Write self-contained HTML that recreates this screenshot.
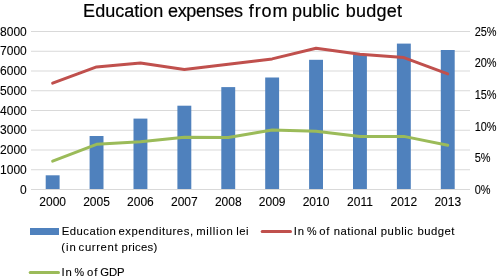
<!DOCTYPE html>
<html><head><meta charset="utf-8"><style>
html,body{margin:0;padding:0;background:#fff;}
body{width:498px;height:280px;overflow:hidden;font-family:"Liberation Sans", sans-serif;}
svg{display:block;will-change:transform;}
text{stroke:#000;stroke-width:0.1px;}
.lg{stroke-width:0.1px;}
</style></head><body>
<svg width="498" height="280" viewBox="0 0 498 280">
<rect width="498" height="280" fill="#fff"/>
<line x1="31.0" x2="470.0" y1="169.75" y2="169.75" stroke="#D9D9D9" stroke-width="1"/>
<line x1="31.0" x2="470.0" y1="150.00" y2="150.00" stroke="#D9D9D9" stroke-width="1"/>
<line x1="31.0" x2="470.0" y1="130.25" y2="130.25" stroke="#D9D9D9" stroke-width="1"/>
<line x1="31.0" x2="470.0" y1="110.50" y2="110.50" stroke="#D9D9D9" stroke-width="1"/>
<line x1="31.0" x2="470.0" y1="90.75" y2="90.75" stroke="#D9D9D9" stroke-width="1"/>
<line x1="31.0" x2="470.0" y1="71.00" y2="71.00" stroke="#D9D9D9" stroke-width="1"/>
<line x1="31.0" x2="470.0" y1="51.25" y2="51.25" stroke="#D9D9D9" stroke-width="1"/>
<line x1="31.0" x2="470.0" y1="31.50" y2="31.50" stroke="#D9D9D9" stroke-width="1"/>
<rect x="45.70" y="175.30" width="13.9" height="13.70" fill="#4F81BD"/>
<rect x="89.60" y="136.00" width="13.9" height="53.00" fill="#4F81BD"/>
<rect x="133.50" y="118.60" width="13.9" height="70.40" fill="#4F81BD"/>
<rect x="177.40" y="105.70" width="13.9" height="83.30" fill="#4F81BD"/>
<rect x="221.30" y="87.10" width="13.9" height="101.90" fill="#4F81BD"/>
<rect x="265.20" y="77.50" width="13.9" height="111.50" fill="#4F81BD"/>
<rect x="309.10" y="59.80" width="13.9" height="129.20" fill="#4F81BD"/>
<rect x="353.00" y="54.50" width="13.9" height="134.50" fill="#4F81BD"/>
<rect x="396.90" y="43.60" width="13.9" height="145.40" fill="#4F81BD"/>
<rect x="440.80" y="50.00" width="13.9" height="139.00" fill="#4F81BD"/>
<line x1="31.0" x2="470.0" y1="189.5" y2="189.5" stroke="#D9D9D9" stroke-width="1"/>
<polyline points="52.65,83.20 96.55,66.90 140.45,63.00 184.35,69.40 228.25,64.20 272.15,58.90 316.05,48.20 359.95,54.20 403.85,57.60 447.75,73.90" fill="none" stroke="#C0504D" stroke-width="3.0" stroke-linejoin="round" stroke-linecap="round"/>
<polyline points="52.65,161.10 96.55,144.30 140.45,141.70 184.35,137.30 228.25,137.40 272.15,130.00 316.05,131.30 359.95,136.60 403.85,136.40 447.75,145.30" fill="none" stroke="#9BBB59" stroke-width="3.0" stroke-linejoin="round" stroke-linecap="round"/>
<text x="83.12" y="17.0" font-family='"Liberation Sans", sans-serif' font-size="18" fill="#000" style="stroke-width:0.2px" textLength="80.05" lengthAdjust="spacing">Education</text>
<text x="167.94" y="17.0" font-family='"Liberation Sans", sans-serif' font-size="18" fill="#000" style="stroke-width:0.2px" textLength="75.02" lengthAdjust="spacing">expenses</text>
<text x="248.75" y="17.0" font-family='"Liberation Sans", sans-serif' font-size="18" fill="#000" style="stroke-width:0.2px" textLength="38.64" lengthAdjust="spacing">from</text>
<text x="292.04" y="17.0" font-family='"Liberation Sans", sans-serif' font-size="18" fill="#000" style="stroke-width:0.2px" textLength="47.43" lengthAdjust="spacing">public</text>
<text x="345.74" y="17.0" font-family='"Liberation Sans", sans-serif' font-size="18" fill="#000" style="stroke-width:0.2px" textLength="56.19" lengthAdjust="spacing">budget</text>
<text x="26.8" y="193.70" text-anchor="end" font-family='"Liberation Sans", sans-serif' font-size="12" fill="#000">0</text>
<text x="26.8" y="173.95" text-anchor="end" font-family='"Liberation Sans", sans-serif' font-size="12" fill="#000">1000</text>
<text x="26.8" y="154.20" text-anchor="end" font-family='"Liberation Sans", sans-serif' font-size="12" fill="#000">2000</text>
<text x="26.8" y="134.45" text-anchor="end" font-family='"Liberation Sans", sans-serif' font-size="12" fill="#000">3000</text>
<text x="26.8" y="114.70" text-anchor="end" font-family='"Liberation Sans", sans-serif' font-size="12" fill="#000">4000</text>
<text x="26.8" y="94.95" text-anchor="end" font-family='"Liberation Sans", sans-serif' font-size="12" fill="#000">5000</text>
<text x="26.8" y="75.20" text-anchor="end" font-family='"Liberation Sans", sans-serif' font-size="12" fill="#000">6000</text>
<text x="26.8" y="55.45" text-anchor="end" font-family='"Liberation Sans", sans-serif' font-size="12" fill="#000">7000</text>
<text x="26.8" y="35.70" text-anchor="end" font-family='"Liberation Sans", sans-serif' font-size="12" fill="#000">8000</text>
<text x="474.7" y="193.70" font-family='"Liberation Sans", sans-serif' font-size="12" fill="#000" textLength="15.8" lengthAdjust="spacingAndGlyphs">0%</text>
<text x="474.7" y="162.10" font-family='"Liberation Sans", sans-serif' font-size="12" fill="#000" textLength="15.8" lengthAdjust="spacingAndGlyphs">5%</text>
<text x="474.7" y="130.50" font-family='"Liberation Sans", sans-serif' font-size="12" fill="#000" textLength="21.9" lengthAdjust="spacingAndGlyphs">10%</text>
<text x="474.7" y="98.90" font-family='"Liberation Sans", sans-serif' font-size="12" fill="#000" textLength="21.9" lengthAdjust="spacingAndGlyphs">15%</text>
<text x="474.7" y="67.30" font-family='"Liberation Sans", sans-serif' font-size="12" fill="#000" textLength="21.9" lengthAdjust="spacingAndGlyphs">20%</text>
<text x="474.7" y="35.70" font-family='"Liberation Sans", sans-serif' font-size="12" fill="#000" textLength="21.9" lengthAdjust="spacingAndGlyphs">25%</text>
<text x="52.65" y="206.2" text-anchor="middle" font-family='"Liberation Sans", sans-serif' font-size="12" fill="#000">2000</text>
<text x="96.55" y="206.2" text-anchor="middle" font-family='"Liberation Sans", sans-serif' font-size="12" fill="#000">2005</text>
<text x="140.45" y="206.2" text-anchor="middle" font-family='"Liberation Sans", sans-serif' font-size="12" fill="#000">2006</text>
<text x="184.35" y="206.2" text-anchor="middle" font-family='"Liberation Sans", sans-serif' font-size="12" fill="#000">2007</text>
<text x="228.25" y="206.2" text-anchor="middle" font-family='"Liberation Sans", sans-serif' font-size="12" fill="#000">2008</text>
<text x="272.15" y="206.2" text-anchor="middle" font-family='"Liberation Sans", sans-serif' font-size="12" fill="#000">2009</text>
<text x="316.05" y="206.2" text-anchor="middle" font-family='"Liberation Sans", sans-serif' font-size="12" fill="#000">2010</text>
<text x="359.95" y="206.2" text-anchor="middle" font-family='"Liberation Sans", sans-serif' font-size="12" fill="#000">2011</text>
<text x="403.85" y="206.2" text-anchor="middle" font-family='"Liberation Sans", sans-serif' font-size="12" fill="#000">2012</text>
<text x="447.75" y="206.2" text-anchor="middle" font-family='"Liberation Sans", sans-serif' font-size="12" fill="#000">2013</text>
<rect x="30" y="228" width="29" height="7" fill="#4F81BD"/>
<line x1="262.2" x2="290.5" y1="231.5" y2="231.5" stroke="#C0504D" stroke-width="3.0" stroke-linecap="round"/>
<line x1="30.2" x2="58.5" y1="272.5" y2="272.5" stroke="#9BBB59" stroke-width="3.0" stroke-linecap="round"/>
<text x="61.77" y="235" font-family='"Liberation Sans", sans-serif' font-size="11.3" class="lg" fill="#000" textLength="54.06" lengthAdjust="spacing">Education</text>
<text x="118.42" y="235" font-family='"Liberation Sans", sans-serif' font-size="11.3" class="lg" fill="#000" textLength="74.60" lengthAdjust="spacing">expenditures,</text>
<text x="196.15" y="235" font-family='"Liberation Sans", sans-serif' font-size="11.3" class="lg" fill="#000" textLength="36.58" lengthAdjust="spacing">million</text>
<text x="236.14" y="235" font-family='"Liberation Sans", sans-serif' font-size="11.3" class="lg" fill="#000" textLength="12.32" lengthAdjust="spacing">lei</text>
<text x="61.30" y="251" font-family='"Liberation Sans", sans-serif' font-size="11.3" class="lg" fill="#000" textLength="14.53" lengthAdjust="spacing">(in</text>
<text x="78.62" y="251" font-family='"Liberation Sans", sans-serif' font-size="11.3" class="lg" fill="#000" textLength="38.96" lengthAdjust="spacing">current</text>
<text x="121.57" y="251" font-family='"Liberation Sans", sans-serif' font-size="11.3" class="lg" fill="#000" textLength="35.73" lengthAdjust="spacing">prices)</text>
<text x="293.76" y="235" font-family='"Liberation Sans", sans-serif' font-size="11.3" class="lg" fill="#000" textLength="10.18" lengthAdjust="spacing">In</text>
<text x="306.90" y="235" font-family='"Liberation Sans", sans-serif' font-size="11.3" class="lg" fill="#000" textLength="9.61" lengthAdjust="spacingAndGlyphs">%</text>
<text x="319.23" y="235" font-family='"Liberation Sans", sans-serif' font-size="11.3" class="lg" fill="#000" textLength="10.26" lengthAdjust="spacing">of</text>
<text x="333.75" y="235" font-family='"Liberation Sans", sans-serif' font-size="11.3" class="lg" fill="#000" textLength="43.01" lengthAdjust="spacing">national</text>
<text x="380.77" y="235" font-family='"Liberation Sans", sans-serif' font-size="11.3" class="lg" fill="#000" textLength="32.23" lengthAdjust="spacing">public</text>
<text x="417.57" y="235" font-family='"Liberation Sans", sans-serif' font-size="11.3" class="lg" fill="#000" textLength="36.71" lengthAdjust="spacing">budget</text>
<text x="61.46" y="276" font-family='"Liberation Sans", sans-serif' font-size="11.3" class="lg" fill="#000" textLength="10.28" lengthAdjust="spacing">In</text>
<text x="74.40" y="276" font-family='"Liberation Sans", sans-serif' font-size="11.3" class="lg" fill="#000" textLength="9.61" lengthAdjust="spacingAndGlyphs">%</text>
<text x="86.93" y="276" font-family='"Liberation Sans", sans-serif' font-size="11.3" class="lg" fill="#000" textLength="10.36" lengthAdjust="spacing">of</text>
<text x="100.23" y="276" font-family='"Liberation Sans", sans-serif' font-size="11.3" class="lg" fill="#000" textLength="24.36" lengthAdjust="spacing">GDP</text>
</svg>
</body></html>
